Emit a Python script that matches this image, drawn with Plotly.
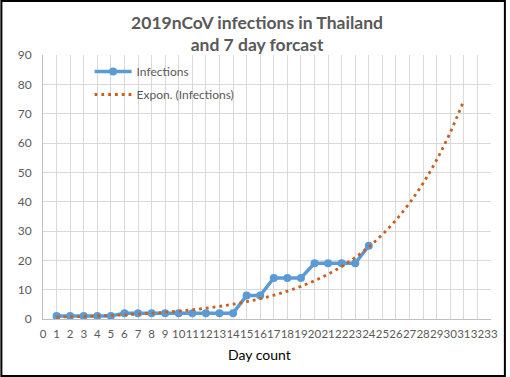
import plotly.graph_objects as go

days = list(range(1, 25))
infections = [1, 1, 1, 1, 1, 2, 2, 2, 2, 2, 2, 2, 2, 2, 8, 8, 14, 14, 14, 19, 19, 19, 19, 25]

trend_days = list(range(1, 32))
trend_values = [0.64, 0.75, 0.88, 1.03, 1.21, 1.42, 1.66, 1.95, 2.28, 2.67, 3.13, 3.67, 4.30, 5.04,
                5.90, 6.92, 8.11, 9.50, 11.13, 13.04, 15.28, 17.90, 20.97, 24.58, 28.80, 33.74,
                39.54, 46.32, 54.28, 63.60, 74.52]

x_ticks = list(range(0, 34))
y_ticks = list(range(0, 100, 10))

W, H = 510, 377
L, R, T, B = 43, 15, 55, 58
pw, ph = W - L - R, H - T - B

GRAY = "#595959"
FONT = "Lato"

fig = go.Figure()
fig.add_trace(go.Scatter(
    x=days, y=infections, name="Infections", mode="lines+markers",
    line=dict(color="#5B9BD5", width=3.5),
    marker=dict(color="#5B9BD5", size=8, symbol="circle"),
    legendgroup="a",
))
fig.add_trace(go.Scatter(
    x=trend_days, y=trend_values, name="Expon. (Infections)", mode="lines",
    line=dict(color="#C85F1C", width=2.8, dash="2.8px,4px", shape="spline"),
    legendgroup="b",
))

fig.update_layout(
    width=W, height=H,
    margin=dict(l=L, r=R, t=T, b=B),
    paper_bgcolor="white", plot_bgcolor="white",
    font=dict(family=FONT, color=GRAY, size=12),
    title=dict(
        text="2019nCoV infections in Thailand<br>and 7 day forcast",
        x=0.504, xanchor="center", y=1 - 28.5 / H, yanchor="middle",
        font=dict(family=FONT, size=17.5, color=GRAY, weight="bold"),
    ),
    xaxis=dict(
        range=[0, 33], tickmode="array", tickvals=x_ticks, ticktext=[str(v) for v in x_ticks],
        tickangle=0, showgrid=True, gridcolor="#D9D9D9", gridwidth=1,
        showline=True, linecolor="#BFBFBF", linewidth=1, zeroline=False,
        ticks="", tickfont=dict(size=11.5, color=GRAY, family=FONT), ticklabelstandoff=4,
    ),
    yaxis=dict(
        range=[0, 90], tickmode="array", tickvals=y_ticks,
        showgrid=True, gridcolor="#D9D9D9", gridwidth=1,
        showline=True, linecolor="#BFBFBF", linewidth=1, zeroline=False,
        ticks="", tickfont=dict(size=12, color=GRAY, family=FONT), ticklabelstandoff=8,
    ),
    legend=dict(
        x=(90 - L) / pw, y=1 - (57 - T) / ph, xanchor="left", yanchor="top",
        bgcolor="rgba(0,0,0,0)", font=dict(size=12, color=GRAY, family=FONT),
        tracegroupgap=4, traceorder="grouped", itemwidth=37,
    ),
    showlegend=True,
    annotations=[dict(
        text="Day count", xref="paper", yref="paper",
        x=(261 - L) / pw, y=(H - B - 354) / ph, xanchor="center", yanchor="middle",
        showarrow=False, font=dict(size=14, color="#000000", family=FONT),
    )],
    shapes=[dict(
        type="rect", xref="paper", yref="paper",
        x0=(1 - L) / pw, x1=(W - 1 - L) / pw,
        y0=(H - B - (H - 1)) / ph, y1=(H - B - 1) / ph,
        line=dict(color="#000000", width=2), fillcolor="rgba(0,0,0,0)", layer="above",
    )],
)

fig.write_html(
    "out.html",
    config={"displayModeBar": False},
    post_script="document.body.style.margin='0';document.body.style.overflow='hidden';",
)
